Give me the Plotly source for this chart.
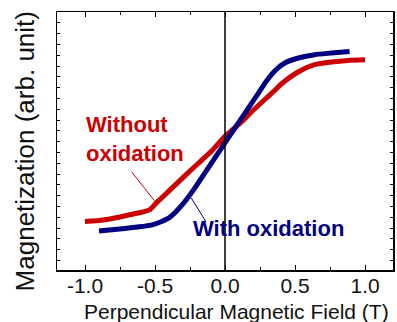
import plotly.graph_objects as go

# Data (field in T, magnetization in arb. units)
field_without = [-1.00, -0.87, -0.75, -0.63, -0.54, -0.49, -0.40, -0.28, -0.16, -0.09,
                 0.00, 0.12, 0.19, 0.29, 0.36, 0.40, 0.525, 0.64, 0.76, 0.88, 1.00]
mag_without = [4.48, 4.63, 4.91, 5.25, 5.56, 6.21, 7.32, 8.80, 10.24, 11.08,
               12.37, 13.72, 14.64, 15.85, 16.68, 17.19, 18.35, 19.00, 19.25, 19.40, 19.46]

field_with = [-0.90, -0.75, -0.52, -0.40, -0.30, -0.21, -0.16, -0.11, 0.00, 0.05,
              0.12, 0.17, 0.24, 0.29, 0.36, 0.43, 0.525, 0.64, 0.76, 0.89]
mag_with = [3.61, 3.80, 4.17, 4.82, 6.12, 7.69, 8.67, 9.64, 11.77, 12.74,
            14.09, 15.06, 16.40, 17.38, 18.49, 19.18, 19.62, 19.93, 20.08, 20.23]

x_ticks = [-1.0, -0.5, 0.0, 0.5, 1.0]
x_tick_labels = ["-1.0", "-0.5", "0.0", "0.5", "1.0"]

RED = "#cc0000"
BLUE = "#000080"
FONT = "Liberation Sans, Arial, sans-serif"

fig = go.Figure()
fig.add_trace(go.Scatter(x=field_without, y=mag_without, mode="lines",
                         line=dict(color=RED, width=5, shape="spline", smoothing=0.6),
                         showlegend=False, hoverinfo="skip"))
fig.add_trace(go.Scatter(x=field_with, y=mag_with, mode="lines",
                         line=dict(color=BLUE, width=5, shape="spline", smoothing=0.6),
                         showlegend=False, hoverinfo="skip"))

# vertical line at zero field
fig.add_shape(type="line", x0=0, x1=0, y0=0, y1=1, xref="x", yref="paper",
              line=dict(color="black", width=1.5))

# leader lines
fig.add_shape(type="line", x0=-0.669, y0=9.11, x1=-0.504, y1=6.42,
              line=dict(color=RED, width=1))
fig.add_shape(type="line", x0=-0.241, y0=6.67, x1=-0.135, y1=4.45,
              line=dict(color=BLUE, width=1))

fig.add_annotation(x=-1.005, y=12.1, xref="x", yref="y", text="<b>Without<br>oxidation</b>",
                   showarrow=False, xanchor="left", yanchor="middle", align="left",
                   font=dict(family=FONT, size=22, color=RED))
fig.add_annotation(x=-0.245, y=3.85, xref="x", yref="y", text="<b>With oxidation</b>",
                   showarrow=False, xanchor="left", yanchor="middle", align="left",
                   font=dict(family=FONT, size=22, color=BLUE))

# axis titles
fig.add_annotation(x=-0.095, y=0.46, xref="paper", yref="paper",
                   text="Magnetization (arb. unit)", textangle=-90, showarrow=False,
                   xanchor="center", yanchor="middle",
                   font=dict(family=FONT, size=26, color="#111111"))
fig.add_annotation(x=0.533, y=-0.159, xref="paper", yref="paper",
                   text="Perpendicular Magnetic Field (T)", showarrow=False,
                   xanchor="center", yanchor="middle",
                   font=dict(family=FONT, size=21, color="#111111"))

fig.update_xaxes(range=[-1.2, 1.2], tickvals=x_ticks, ticktext=x_tick_labels,
                 ticks="inside", ticklen=5, tickwidth=1, tickcolor="black",
                 minor=dict(dtick=0.25, tick0=0, ticks="inside", ticklen=3, tickcolor="black", showgrid=False),
                 showline=True, linecolor="black", linewidth=1.5, mirror="ticks",
                 showgrid=False, zeroline=False, ticklabelstandoff=-4,
                 tickfont=dict(family=FONT, size=21, color="#111111"))
fig.update_yaxes(range=[0, 23.88], tick0=0.87, dtick=1,
                 ticks="inside", ticklen=3, tickwidth=1, tickcolor="black",
                 showticklabels=False,
                 showline=True, linecolor="black", linewidth=1.5, mirror="ticks",
                 showgrid=False, zeroline=False)

fig.update_layout(width=397, height=322, margin=dict(l=57, r=2, t=12, b=52),
                  plot_bgcolor="white", paper_bgcolor="white",
                  font=dict(family=FONT), hovermode=False)

fig.write_html("out.html", config={"displayModeBar": False, "staticPlot": True},
               post_script="document.body.style.margin='0';document.body.style.padding='0';"
                           "document.body.style.overflow='hidden';")
